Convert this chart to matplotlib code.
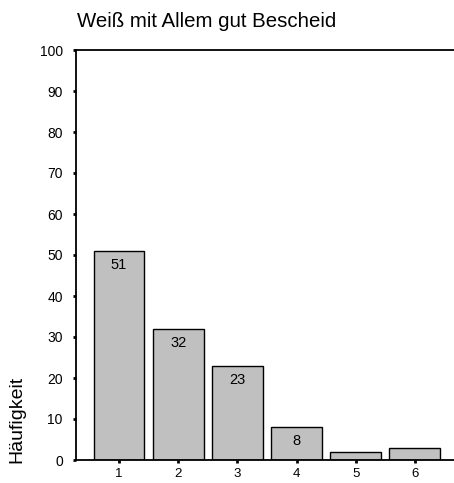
import matplotlib
matplotlib.use("Agg")
import matplotlib.pyplot as plt

plt.rcParams['font.family'] = ['Liberation Sans', 'DejaVu Sans']

categories = [1, 2, 3, 4, 5, 6]
counts = [51, 32, 23, 8, 2, 3]
bar_labels = ["51", "32", "23", "8", "", ""]
y_ticks = [0, 10, 20, 30, 40, 50, 60, 70, 80, 90, 100]
title = "Weiß mit Allem gut Bescheid"
ylabel = "Häufigkeit"

W, H = 454, 483
fig = plt.figure(figsize=(W / 100, H / 100), dpi=100)
ax = fig.add_axes([76 / W, 23 / H, 1 - 76 / W, (460 - 50) / H])

bars = ax.bar(categories, counts, width=0.86, color="#c0c0c0",
              edgecolor="black", linewidth=1.0)
for rect, lab in zip(bars, bar_labels):
    if lab:
        ax.annotate(lab, (rect.get_x() + rect.get_width() / 2, rect.get_height()),
                    xytext=(0, -10), textcoords="offset points",
                    ha="center", va="center", fontsize=10.5)

ax.set_xlim(0.274, 6.66)
ax.set_ylim(0, 100)
ax.set_xticks(categories)
ax.set_xticklabels([str(c) for c in categories])
ax.set_yticks(y_ticks)

for s in ["left", "top", "bottom"]:
    ax.spines[s].set_linewidth(1.3)
ax.spines["right"].set_visible(False)
ax.tick_params(direction="out", length=2.5, width=2, labelsize=10)
ax.tick_params(axis="y", pad=7)
ax.tick_params(axis="x", pad=3.5, labelsize=9.5)

fig.text(77 / W, (H - 27) / H, title, fontsize=14.7, ha="left", va="baseline")
fig.text(17 / W, (H - 463) / H, ylabel, fontsize=14, rotation=90,
         ha="center", va="bottom")

fig.savefig("out.png", dpi=100)
